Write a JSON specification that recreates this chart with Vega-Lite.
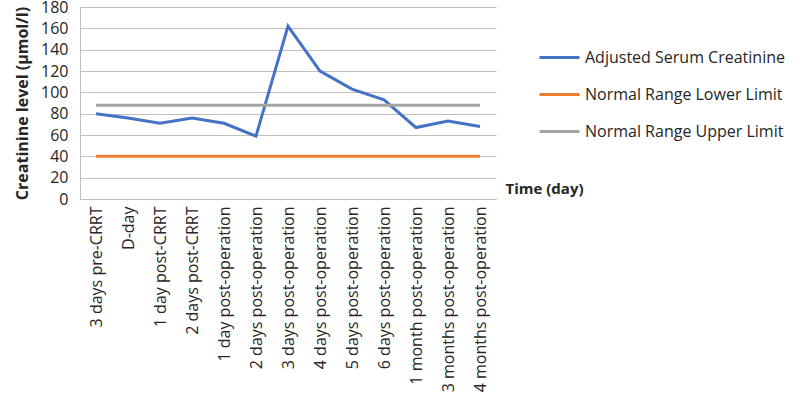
{
  "$schema": "https://vega.github.io/schema/vega-lite/v6.json",
  "autosize": "none",
  "width": 416,
  "height": 192,
  "padding": {"left": 80, "top": 7, "right": 304, "bottom": 217},
  "config": {
    "font": "Open Sans",
    "view": {"stroke": null}
  },
  "data": {
    "values": [
      {"time": "3 days pre-CRRT", "series": "Adjusted Serum Creatinine", "value": 80},
      {"time": "D-day", "series": "Adjusted Serum Creatinine", "value": 76},
      {"time": "1 day post-CRRT", "series": "Adjusted Serum Creatinine", "value": 71},
      {"time": "2 days post-CRRT", "series": "Adjusted Serum Creatinine", "value": 76},
      {"time": "1 day post-operation", "series": "Adjusted Serum Creatinine", "value": 71},
      {"time": "2 days post-operation", "series": "Adjusted Serum Creatinine", "value": 59},
      {"time": "3 days post-operation", "series": "Adjusted Serum Creatinine", "value": 162},
      {"time": "4 days post-operation", "series": "Adjusted Serum Creatinine", "value": 120},
      {"time": "5 days post-operation", "series": "Adjusted Serum Creatinine", "value": 103},
      {"time": "6 days post-operation", "series": "Adjusted Serum Creatinine", "value": 93},
      {"time": "1 month post-operation", "series": "Adjusted Serum Creatinine", "value": 67},
      {"time": "3 months post-operation", "series": "Adjusted Serum Creatinine", "value": 73},
      {"time": "4 months post-operation", "series": "Adjusted Serum Creatinine", "value": 68},
      {"time": "3 days pre-CRRT", "series": "Normal Range Lower Limit", "value": 40},
      {"time": "D-day", "series": "Normal Range Lower Limit", "value": 40},
      {"time": "1 day post-CRRT", "series": "Normal Range Lower Limit", "value": 40},
      {"time": "2 days post-CRRT", "series": "Normal Range Lower Limit", "value": 40},
      {"time": "1 day post-operation", "series": "Normal Range Lower Limit", "value": 40},
      {"time": "2 days post-operation", "series": "Normal Range Lower Limit", "value": 40},
      {"time": "3 days post-operation", "series": "Normal Range Lower Limit", "value": 40},
      {"time": "4 days post-operation", "series": "Normal Range Lower Limit", "value": 40},
      {"time": "5 days post-operation", "series": "Normal Range Lower Limit", "value": 40},
      {"time": "6 days post-operation", "series": "Normal Range Lower Limit", "value": 40},
      {"time": "1 month post-operation", "series": "Normal Range Lower Limit", "value": 40},
      {"time": "3 months post-operation", "series": "Normal Range Lower Limit", "value": 40},
      {"time": "4 months post-operation", "series": "Normal Range Lower Limit", "value": 40},
      {"time": "3 days pre-CRRT", "series": "Normal Range Upper Limit", "value": 88},
      {"time": "D-day", "series": "Normal Range Upper Limit", "value": 88},
      {"time": "1 day post-CRRT", "series": "Normal Range Upper Limit", "value": 88},
      {"time": "2 days post-CRRT", "series": "Normal Range Upper Limit", "value": 88},
      {"time": "1 day post-operation", "series": "Normal Range Upper Limit", "value": 88},
      {"time": "2 days post-operation", "series": "Normal Range Upper Limit", "value": 88},
      {"time": "3 days post-operation", "series": "Normal Range Upper Limit", "value": 88},
      {"time": "4 days post-operation", "series": "Normal Range Upper Limit", "value": 88},
      {"time": "5 days post-operation", "series": "Normal Range Upper Limit", "value": 88},
      {"time": "6 days post-operation", "series": "Normal Range Upper Limit", "value": 88},
      {"time": "1 month post-operation", "series": "Normal Range Upper Limit", "value": 88},
      {"time": "3 months post-operation", "series": "Normal Range Upper Limit", "value": 88},
      {"time": "4 months post-operation", "series": "Normal Range Upper Limit", "value": 88}
    ]
  },
  "mark": {"type": "line", "strokeWidth": 3},
  "encoding": {
    "x": {
      "field": "time",
      "type": "nominal",
      "sort": null,
      "scale": {"type": "point", "padding": 0.5},
      "axis": {
        "title": "Time (day)",
        "titleFontSize": 15,
        "titleFontWeight": "bold",
        "titleColor": "#262626",
        "titleX": 425,
        "titleY": -11,
        "titleAlign": "left",
        "titleBaseline": "middle",
        "titleAnchor": null,
        "labelAngle": -90,
        "labelFontSize": 16,
        "labelColor": "#262626",
        "labelPadding": 7,
        "labelLimit": 260,
        "ticks": false,
        "domain": true,
        "domainColor": "#BFBFBF",
        "domainWidth": 1
      }
    },
    "y": {
      "field": "value",
      "type": "quantitative",
      "scale": {"domain": [0, 180]},
      "axis": {
        "title": "Creatinine level (µmol/l)",
        "titleFontSize": 16,
        "titleFontWeight": "bold",
        "titleColor": "#262626",
        "titlePadding": 10,
        "values": [0, 20, 40, 60, 80, 100, 120, 140, 160, 180],
        "labelFontSize": 16,
        "labelColor": "#262626",
        "labelPadding": 12,
        "ticks": false,
        "domain": true,
        "domainColor": "#BFBFBF",
        "grid": true,
        "gridColor": "#BFBFBF",
        "gridWidth": 1
      }
    },
    "color": {
      "field": "series",
      "type": "nominal",
      "scale": {
        "domain": ["Adjusted Serum Creatinine", "Normal Range Lower Limit", "Normal Range Upper Limit"],
        "range": ["#4472C4", "#ED7D31", "#A5A5A5"]
      },
      "legend": {
        "title": null,
        "orient": "none",
        "legendX": 458,
        "legendY": 29,
        "symbolType": "stroke",
        "symbolSize": 1600,
        "symbolStrokeWidth": 3,
        "labelFontSize": 16,
        "labelColor": "#262626",
        "labelOffset": 4,
        "rowPadding": 7,
        "labelLimit": 300
      }
    }
  }
}
